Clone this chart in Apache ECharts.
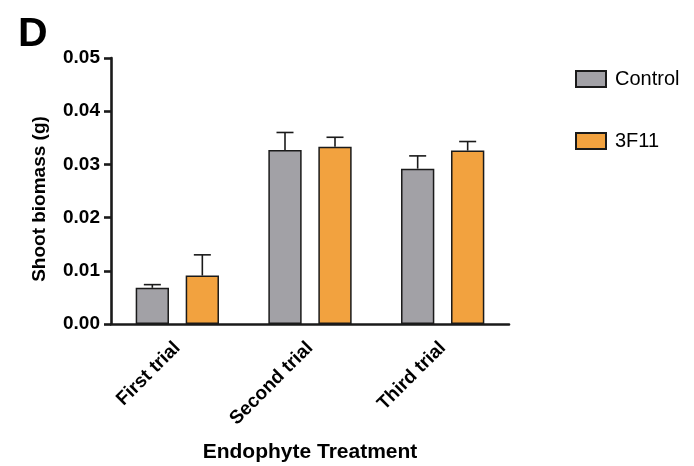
<!DOCTYPE html>
<html>
<head>
<meta charset="utf-8">
<script src="https://cdn.jsdelivr.net/npm/echarts@6/dist/echarts.min.js"></script>
<style>
  html, body { margin: 0; padding: 0; background: #fff; }
  #chart { width: 694px; height: 466px; }
</style>
</head>
<body>
<div id="chart"></div>
<script>
// Shoot biomass by trial, mean with upper SEM bar
const categories = ['First trial', 'Second trial', 'Third trial'];
const seriesNames = ['Control', '3F11'];
const controlMean = [0.0068, 0.0327, 0.0292];
const controlErr  = [0.0006, 0.0033, 0.0024];
const treatMean   = [0.0091, 0.0333, 0.0326];
const treatErr    = [0.0039, 0.0018, 0.0017];
const yTicks = [0, 0.01, 0.02, 0.03, 0.04, 0.05];

const FONT = '"Liberation Sans", Arial, Helvetica, sans-serif';
const INK = '#1a1a1a';
const BAR_W = 33.3;
const BAR_GAP = 16.7;
const colors = ['#a2a1a6', '#f2a23f'];

// upward error whisker with a cap, offset to sit over its own bar
function errorSeries(name, means, errs, offset) {
  return {
    type: 'custom',
    name: name + ' error',
    z: 5,
    data: categories.map((c, i) => [i, means[i], means[i] + errs[i]]),
    renderItem: function (params, api) {
      const base = api.coord([api.value(0), api.value(1)]);
      const top = api.coord([api.value(0), api.value(2)]);
      const x = base[0] + offset;
      const half = 8.5;
      const style = { stroke: INK, lineWidth: 1.6 };
      return {
        type: 'group',
        children: [
          { type: 'line', shape: { x1: x, y1: base[1], x2: x, y2: top[1] }, style: style },
          { type: 'line', shape: { x1: x - half, y1: top[1], x2: x + half, y2: top[1] }, style: style }
        ]
      };
    }
  };
}

const chart = echarts.init(document.getElementById('chart'));
const step = (BAR_W + BAR_GAP) / 2;

chart.setOption({
  backgroundColor: '#fff',
  animation: false,
  textStyle: { fontFamily: FONT },
  title: {
    text: 'D',
    left: 13,
    top: 9,
    textStyle: { fontFamily: FONT, fontSize: 41, fontWeight: 'bold', color: '#000' }
  },
  legend: {
    data: seriesNames,
    icon: 'rect',
    orient: 'vertical',
    left: 570,
    top: 64,
    itemWidth: 30,
    itemHeight: 16,
    itemGap: 42,
    textStyle: { fontFamily: FONT, fontSize: 20, color: '#000', padding: [0, 0, 0, 4] }
  },
  grid: { left: 111, top: 58, width: 398, height: 266, outerBoundsMode: 'none' },
  xAxis: {
    type: 'category',
    data: categories,
    name: 'Endophyte Treatment',
    nameLocation: 'middle',
    nameGap: 118,
    nameTextStyle: { fontFamily: FONT, fontSize: 21, fontWeight: 'bold', color: '#000' },
    axisLine: { lineStyle: { color: INK, width: 2.6 } },
    axisTick: { alignWithLabel: true, length: 8, lineStyle: { color: INK, width: 2.6 } },
    axisLabel: {
      rotate: 45,
      margin: 21,
      fontFamily: FONT,
      fontSize: 19,
      fontWeight: 'bold',
      color: '#000'
    }
  },
  yAxis: {
    type: 'value',
    min: yTicks[0],
    max: yTicks[yTicks.length - 1],
    interval: 0.01,
    name: 'Shoot biomass (g)',
    nameLocation: 'middle',
    nameGap: 62,
    nameTextStyle: {
      fontFamily: FONT, fontSize: 19, fontWeight: 'bold', color: '#000',
      padding: [0, 16, 0, 0]
    },
    splitLine: { show: false },
    axisLine: { show: true, lineStyle: { color: INK, width: 2.6 } },
    axisTick: { show: true, length: 7, lineStyle: { color: INK, width: 2.6 } },
    axisLabel: {
      margin: 11,
      fontFamily: FONT,
      fontSize: 19,
      fontWeight: 'bold',
      color: '#000',
      formatter: v => v.toFixed(2)
    }
  },
  series: [
    {
      type: 'bar',
      name: seriesNames[0],
      data: controlMean,
      barWidth: BAR_W,
      barGap: (BAR_GAP / BAR_W * 100) + '%',
      itemStyle: { color: colors[0], borderColor: INK, borderWidth: 1.5 }
    },
    {
      type: 'bar',
      name: seriesNames[1],
      data: treatMean,
      barWidth: BAR_W,
      itemStyle: { color: colors[1], borderColor: INK, borderWidth: 1.5 }
    },
    errorSeries(seriesNames[0], controlMean, controlErr, -step),
    errorSeries(seriesNames[1], treatMean, treatErr, step)
  ]
});
</script>
</body>
</html>
